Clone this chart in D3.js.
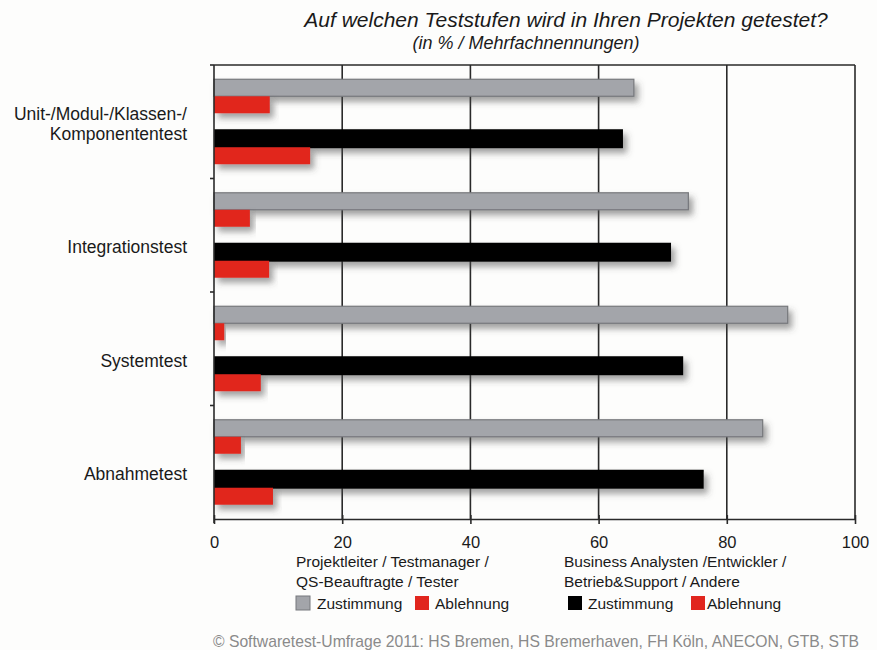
<!DOCTYPE html>
<html>
<head>
<meta charset="utf-8">
<script src="https://cdn.jsdelivr.net/npm/d3@7"></script>
<style>
  body { margin: 0; background: #fdfdfc; }
  text { font-family: "Liberation Sans", Arial, sans-serif; fill: #1a1a1a; }
</style>
</head>
<body>
<script>
// categories (test levels), top to bottom
var categories = ["Unit-/Modul-/Klassen-/|Komponententest", "Integrationstest", "Systemtest", "Abnahmetest"];
// Projektleiter / Testmanager / QS-Beauftragte / Tester
var pmZustimmung = [65.5, 74.0, 89.5, 85.6];
var pmAblehnung = [8.7, 5.6, 1.6, 4.2];
// Business Analysten / Entwickler / Betrieb&Support / Andere
var baZustimmung = [63.8, 71.3, 73.2, 76.4];
var baAblehnung = [15.0, 8.6, 7.3, 9.2];
// axis ticks
var xTicks = [0, 20, 40, 60, 80, 100];

window.onload = function(){
  var w = 877, h = 650;
  var left = 214, right = 855, top = 65, bottom = 519;

  var svg = d3.select("body").append("svg")
      .attr("width", w)
      .attr("height", h);

  //shadow filter for the bars
  var defs = svg.append("defs");
  var f = defs.append("filter").attr("id", "shadow")
      .attr("x", "-5%").attr("y", "-50%").attr("width", "120%").attr("height", "250%");
  f.append("feDropShadow")
      .attr("dx", 4).attr("dy", 5)
      .attr("stdDeviation", 3)
      .attr("flood-color", "#444")
      .attr("flood-opacity", 0.5);

  var x = d3.scaleLinear().domain([0, 100]).range([left, right]);
  var y = d3.scaleBand().domain(categories).range([top, bottom]);
  var slots = d3.scaleBand()
      .domain(["pmZ", "pmA", "gap", "baZ", "baA"])
      .range([0, y.bandwidth()])
      .paddingOuter(0.84);

  //gridlines
  svg.append("g").selectAll("line")
      .data(xTicks.slice(1))
      .enter().append("line")
      .attr("x1", function(d){ return x(d); })
      .attr("x2", function(d){ return x(d); })
      .attr("y1", top).attr("y2", bottom)
      .style("stroke", "#2a2a2a")
      .style("stroke-width", 1.6);

  //top border
  svg.append("line")
      .attr("x1", x(0)).attr("x2", x(100))
      .attr("y1", top).attr("y2", top)
      .style("stroke", "#2a2a2a").style("stroke-width", 1.6);

  //bars
  var series = [
    {key: "pmZ", values: pmZustimmung, fill: "#a3a5aa", stroke: "#76787c", extra: 0},
    {key: "pmA", values: pmAblehnung, fill: "#e1261e", stroke: "none", extra: 0},
    {key: "baZ", values: baZustimmung, fill: "#000000", stroke: "none", extra: 2},
    {key: "baA", values: baAblehnung, fill: "#e1261e", stroke: "none", extra: 0}
  ];

  series.forEach(function(s){
    svg.append("g").selectAll("rect")
        .data(s.values)
        .enter().append("rect")
        .attr("x", x(0))
        .attr("y", function(d, i){ return y(categories[i]) + slots(s.key) - s.extra / 2; })
        .attr("width", function(d){ return x(d) - x(0); })
        .attr("height", slots.bandwidth() + s.extra)
        .attr("filter", "url(#shadow)")
        .style("fill", s.fill)
        .style("stroke", s.stroke)
        .style("stroke-width", s.stroke == "none" ? 0 : 1.2);
  });

  //x axis
  var xAxis = d3.axisBottom(x).tickValues(xTicks).tickSizeInner(5).tickSizeOuter(0).tickPadding(12);
  var gx = svg.append("g")
      .attr("transform", "translate(0," + bottom + ")")
      .call(xAxis);
  gx.select(".domain").style("stroke", "#2a2a2a").style("stroke-width", 1.6);
  gx.selectAll(".tick line").attr("y1", -4).style("stroke", "#2a2a2a").style("stroke-width", 1.6);
  gx.selectAll(".tick text")
      .style("font-size", "16.5px")
      .style("font-family", "Liberation Sans, Arial, sans-serif")
      .style("fill", "#1a1a1a");

  //y axis line with ticks at band edges
  svg.append("line")
      .attr("x1", x(0)).attr("x2", x(0))
      .attr("y1", top).attr("y2", bottom + 4)
      .style("stroke", "#2a2a2a").style("stroke-width", 1.6);
  svg.append("g").selectAll("line")
      .data(categories)
      .enter().append("line")
      .attr("x1", x(0) - 4).attr("x2", x(0))
      .attr("y1", function(d){ return y(d); })
      .attr("y2", function(d){ return y(d); })
      .style("stroke", "#2a2a2a").style("stroke-width", 1.6);

  //category labels
  var labels = svg.append("g").selectAll("text")
      .data(categories)
      .enter().append("text")
      .attr("text-anchor", "end")
      .style("font-size", "17.5px")
      .attr("y", function(d){
        var n = d.split("|").length;
        return y(d) + y.bandwidth() / 2 + 18 - (n - 1) * 20;
      });
  labels.selectAll("tspan")
      .data(function(d){ return d.split("|"); })
      .enter().append("tspan")
      .attr("x", 187)
      .attr("dy", function(d, i){ return i ? 20 : 0; })
      .text(function(d){ return d; });

  //title
  svg.append("text")
      .attr("text-anchor", "middle")
      .attr("x", 566).attr("y", 27)
      .style("font-size", "21px")
      .style("font-style", "italic")
      .text("Auf welchen Teststufen wird in Ihren Projekten getestet?");
  svg.append("text")
      .attr("text-anchor", "middle")
      .attr("x", 526).attr("y", 49)
      .style("font-size", "18px")
      .style("font-style", "italic")
      .text("(in % / Mehrfachnennungen)");

  //legend
  var legends = [
    {x: 296, lines: ["Projektleiter / Testmanager /", "QS-Beauftragte / Tester"],
     items: [{label: "Zustimmung", fill: "#a3a5aa", stroke: "#76787c", dx: 0, tx: 21}, {label: "Ablehnung", fill: "#e1261e", stroke: "none", dx: 119, tx: 139}]},
    {x: 564, lines: ["Business Analysten /Entwickler /", "Betrieb&Support / Andere"],
     items: [{label: "Zustimmung", fill: "#000000", stroke: "none", dx: 4, tx: 24}, {label: "Ablehnung", fill: "#e1261e", stroke: "none", dx: 127, tx: 143}]}
  ];
  legends.forEach(function(l){
    var g = svg.append("g");
    l.lines.forEach(function(t, i){
      g.append("text")
          .attr("x", l.x)
          .attr("y", 567 + i * 20)
          .style("font-size", "15.5px")
          .text(t);
    });
    l.items.forEach(function(it){
      g.append("rect")
          .attr("x", l.x + it.dx)
          .attr("y", 596)
          .attr("width", 14).attr("height", 14)
          .style("fill", it.fill)
          .style("stroke", it.stroke);
      g.append("text")
          .attr("x", l.x + it.tx)
          .attr("y", 609)
          .style("font-size", "15.5px")
          .text(it.label);
    });
  });

  //source
  svg.append("text")
      .attr("x", 213)
      .attr("y", 647)
      .style("font-size", "15.7px")
      .style("fill", "#8a8a8a")
      .text("© Softwaretest-Umfrage 2011: HS Bremen, HS Bremerhaven, FH Köln, ANECON, GTB, STB");
};
</script>
</body>
</html>
